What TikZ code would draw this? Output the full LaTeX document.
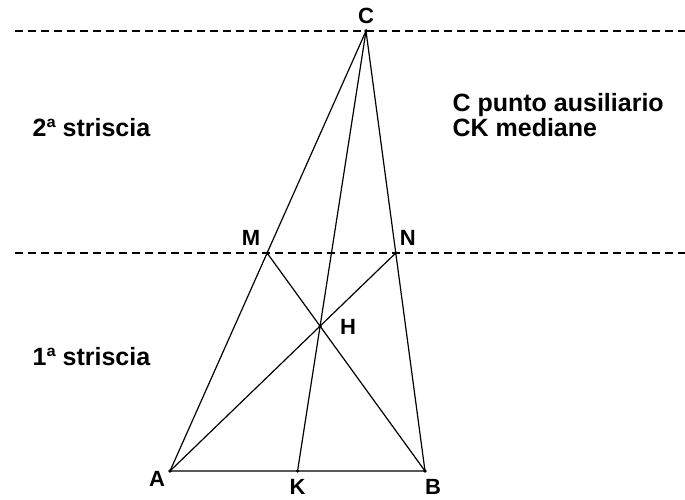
\documentclass[tikz,border=0pt]{standalone}
\usepackage{fontspec}
\setmainfont{Liberation Sans}
\usetikzlibrary{calc,positioning}
\begin{document}
\begin{tikzpicture}[x=1pt, y=-1pt, line width=1.2pt,
  stripline/.style={dashed, dash pattern=on 8pt off 5pt, line width=1.2pt},
  pointlabel/.style={font=\fontsize{22}{22}\selectfont\bfseries, inner sep=0pt},
  textlabel/.style={font=\fontsize{25}{23}\selectfont\bfseries, anchor=base west, align=left, inner sep=0pt}]
  \useasboundingbox (0,0) rectangle (685,499);
  % vertici e punti ausiliari
  \coordinate (A) at (170,471);
  \coordinate (B) at (425,471);
  \coordinate (C) at (366,31);
  \coordinate (M) at ($(A)!{218/440}!(C)$);
  \coordinate (N) at ($(B)!{218/440}!(C)$);
  \coordinate (H) at (intersection of A--N and B--M);
  \coordinate (K) at (intersection of C--H and A--B);
  \coordinate (L1) at (15,31);  \coordinate (R1) at (685,31);
  \coordinate (L2) at (15,253); \coordinate (R2) at (685,253);
  % strisce
  \draw[stripline] (L1) -- (R1);
  \draw[stripline] (L2) -- (R2);
  % triangolo e mediane
  \draw (A) -- (B) -- (C) -- cycle;
  \draw (C) -- (K);
  \draw (A) -- (N);
  \draw (B) -- (M);
  \foreach \p in {A,B,C,K,M,N,H}
    \fill (\p) circle (1.8pt);
  % etichette
  \node[pointlabel] (lC) at ($(C)+(0,-15)$) {C};
  \node[pointlabel] (lA) at ($(A)+(-13,8)$) {A};
  \node[pointlabel] (lK) at ($(K)+(0,16)$) {K};
  \node[pointlabel] (lB) at ($(B)+(8,16)$) {B};
  \node[pointlabel] (lM) at ($(M)+(-16,-15)$) {M};
  \node[pointlabel] (lN) at ($(N)+(12,-15)$) {N};
  \node[pointlabel] (lH) at ($(H)+(28,1)$) {H};
  \node[textlabel] (aux) at (452,136) {C punto ausiliario\\CK mediane};
  \node[textlabel] (s2) at (32,136) {2ª striscia};
  \node[textlabel] (s1) at (32,365) {1ª striscia};
\end{tikzpicture}
\end{document}
